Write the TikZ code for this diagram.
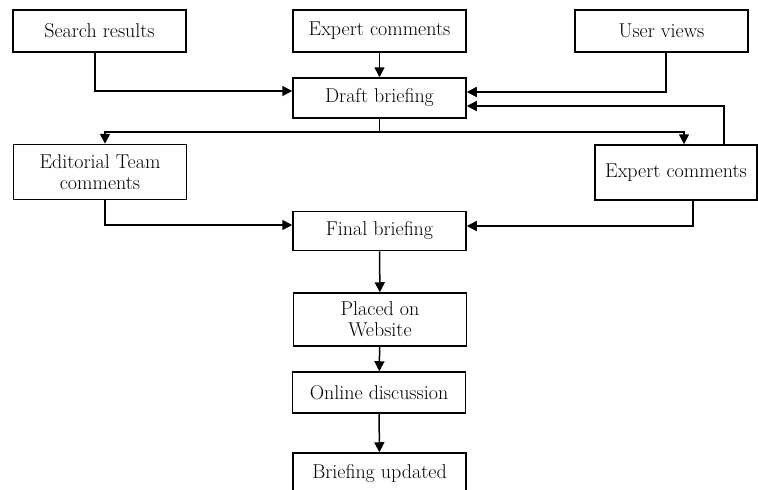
\documentclass[tikz,border=0pt]{standalone}
\usepackage{fontspec}
\setmainfont{Latin Modern Roman}
\usetikzlibrary{arrows.meta}
\begin{document}
\begin{tikzpicture}[x=1pt,y=-1pt,
 box/.style = {draw, line width=1.5pt, fill=white,
      minimum width=173pt, minimum height=#1,
      align=center, inner sep=1pt,
      font=\fontsize{20}{21}\selectfont},
 box/.default = 42pt,
 link/.style = {draw, line width=1.5pt, -{Triangle[length=10pt,width=10pt]}}
                    ]
\useasboundingbox (0,0) rectangle (758,490);
\node(search) [box] at (99.5,31) {Search results};
\node(expA) [box] at (379.5,31) {Expert comments};
\node(user) [box] at (661.5,31) {User views};
\node(draft) [box=40pt] at (379.5,98) {Draft briefing};
\node(editorial) [box=55pt] at (100,172) {Editorial Team\\comments};
\node(expB) [box=55pt, minimum width=162pt] at (676,172.5) {Expert comments};
\node(final) [box=39pt] at (379.5,231) {Final briefing};
\node(website) [box=53pt] at (380,319.5) {Placed on\\Website};
\node(online) [box=41pt] at (379,392.5) {Online discussion};
\node(updated) [box=42pt] at (379.5,474) {Briefing updated};
\coordinate(split) at (379.5,132);
%
\path[link] (expA) -- (draft);
\path[link] ([xshift=-4.5pt]search.south) |- ([yshift=7pt]draft.west);
\path[link] ([xshift=4.5pt]user.south) |- ([yshift=6pt]draft.east);
\path[link] ([xshift=48pt]expB.north) |- ([yshift=-8pt]draft.east);
\draw[line width=1.5pt] (draft) -- (split);
\path[link] (split) -| ([xshift=5pt]editorial.north);
\path[link] (split) -| ([xshift=8pt]expB.north);
\path[link] ([xshift=5pt]editorial.south) |- ([yshift=6pt]final.west);
\path[link] ([xshift=17pt]expB.south) |- ([yshift=5pt]final.east);
\path[link] (final) -- (website);
\path[link] (website) -- (online);
\path[link] (online) -- (updated);
\end{tikzpicture}
\end{document}
